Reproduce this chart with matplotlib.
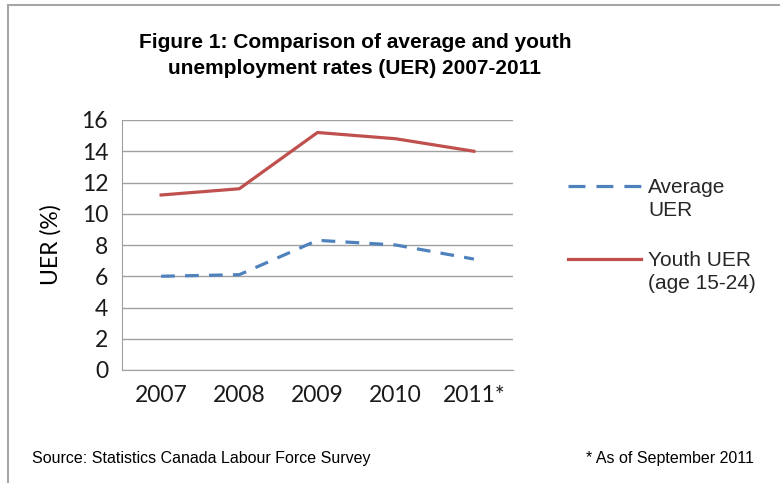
import matplotlib.pyplot as plt
from matplotlib.lines import Line2D

years = ['2007', '2008', '2009', '2010', '2011*']
average_uer = [6.0, 6.1, 8.3, 8.0, 7.1]
youth_uer = [11.2, 11.6, 15.2, 14.8, 14.0]
yticks = [0, 2, 4, 6, 8, 10, 12, 14, 16]

W, H = 780, 483
fig = plt.figure(figsize=(W / 100, H / 100), dpi=100)

# grey frame: only top and left edges are inside the picture
fig.add_artist(Line2D([8 / W, 8 / W], [0, 1 - 5 / H], transform=fig.transFigure,
                      color='#a6a6a6', linewidth=1.5))
fig.add_artist(Line2D([8 / W, 1], [1 - 5 / H, 1 - 5 / H], transform=fig.transFigure,
                      color='#a6a6a6', linewidth=1.5))

dash = (0, (4.3, 3.2))

ax = fig.add_axes([122 / W, 1 - 370 / H, 391 / W, 250 / H])
x = range(len(years))
ax.plot(x, average_uer, color='#4F81BD', linewidth=2.3, linestyle=dash)
ax.plot(x, youth_uer, color='#C0504D', linewidth=2.3)

ax.set_xlim(-0.5, len(years) - 0.5)
ax.set_ylim(0, 16)
ax.set_yticks(yticks)
ax.set_xticks(list(x))
ax.set_xticklabels(years)
ax.yaxis.grid(True, color='#a0a0a0', linewidth=1)
ax.set_axisbelow(True)
for s in ['top', 'right']:
    ax.spines[s].set_visible(False)
for s in ['left', 'bottom']:
    ax.spines[s].set_color('#a0a0a0')
ax.tick_params(length=0, labelsize=16.5, colors='#1a1a1a')
ax.tick_params(axis='x', pad=11)
ax.tick_params(axis='y', pad=10)
for lab in ax.get_xticklabels() + ax.get_yticklabels():
    lab.set_family('Lato')
ax.set_ylabel('UER (%)', fontsize=16.5, family='Lato', labelpad=14)

title_font = dict(ha='center', va='center', fontsize=15, fontweight='bold',
                  family='Liberation Sans')
fig.text(355 / W, 1 - 43 / H, 'Figure 1: Comparison of average and youth', **title_font)
fig.text(355 / W, 1 - 68 / H, 'unemployment rates (UER) 2007-2011', **title_font)

# legend drawn by hand so the key sits beside the first text line
leg_font = dict(ha='left', va='center', fontsize=15, family='Liberation Sans',
                color='#262626', linespacing=1.3)
fig.add_artist(Line2D([568 / W, 641 / W], [1 - 186 / H] * 2, transform=fig.transFigure,
                      color='#4F81BD', linewidth=2.3, linestyle=(0, (5.3, 3.45))))
fig.text(648 / W, 1 - 199 / H, 'Average\nUER', **leg_font)
fig.add_artist(Line2D([568 / W, 641 / W], [1 - 259 / H] * 2, transform=fig.transFigure,
                      color='#C0504D', linewidth=2.3))
fig.text(648 / W, 1 - 272 / H, 'Youth UER\n(age 15-24)', **leg_font)

note_font = dict(va='center', fontsize=11.5, family='Liberation Sans')
fig.text(32 / W, 1 - 458 / H, 'Source: Statistics Canada Labour Force Survey',
         ha='left', **note_font)
fig.text(754 / W, 1 - 458 / H, '* As of September 2011', ha='right', **note_font)

fig.savefig('out.png', dpi=100)
